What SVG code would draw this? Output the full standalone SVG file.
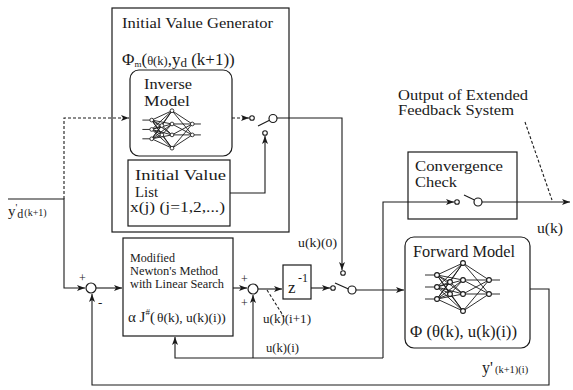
<svg xmlns="http://www.w3.org/2000/svg" xmlns:xlink="http://www.w3.org/1999/xlink" width="573" height="390" viewBox="0 0 573 390">
<style>
.t{font-family:"Liberation Serif","Times New Roman",serif;fill:#1a1a1a}
.b{fill:none;stroke:#1a1a1a;stroke-width:1.2}
.w{fill:#fff;stroke:#1a1a1a;stroke-width:1.2}
.c{fill:none;stroke:#1a1a1a;stroke-width:1.1}
.d{fill:none;stroke:#1a1a1a;stroke-width:1.1;stroke-dasharray:3 2}
.a{marker-end:url(#arr)}
.n{fill:#fff;stroke:#1a1a1a;stroke-width:1.1}
.nl{fill:none;stroke:#1a1a1a;stroke-width:0.9}
</style>
<defs>
<marker id="arr" markerUnits="userSpaceOnUse" markerWidth="9" markerHeight="7" refX="8" refY="3.5" orient="auto">
<path d="M0,0.5 L8,3.5 L0,6.5 L2,3.5 z" fill="#1a1a1a"/>
</marker>
<g id="net">
<path class="nl" vector-effect="non-scaling-stroke" d="M-38,-14H-26M-38,-2H-26M-38,10H-26M26,-9H37M26,5H37
M-26,-14L0,-26M-26,-14L0,-9M-26,-14L0,5M-26,-14L0,22
M-26,-2L0,-26M-26,-2L0,-9M-26,-2L0,5M-26,-2L0,22
M-26,10L0,-26M-26,10L0,-9M-26,10L0,5M-26,10L0,22
M-26,-14L-13,-7M-26,-14L-13,5M-26,-2L-13,-7M-26,-2L-13,5M-26,10L-13,-7M-26,10L-13,5
M-13,-7L0,-26M-13,-7L0,5M-13,5L0,-9M-13,5L0,22
M0,-26L26,-9M0,-26L26,5M0,-9L26,-9M0,-9L26,5M0,5L26,-9M0,5L26,5M0,22L26,-9M0,22L26,5"/>
<g class="n" vector-effect="non-scaling-stroke">
<circle cx="-26" cy="-14" r="2.4"/><circle cx="-26" cy="-2" r="2.4"/><circle cx="-26" cy="10" r="2.4"/>
<circle cx="-13" cy="-7" r="2.4"/><circle cx="-13" cy="5" r="2.4"/>
<circle cx="0" cy="-26" r="2.4"/><circle cx="0" cy="-9" r="2.4"/><circle cx="0" cy="5" r="2.4"/><circle cx="0" cy="22" r="2.4"/>
<circle cx="26" cy="-9" r="2.4"/><circle cx="26" cy="5" r="2.4"/>
</g>
</g>
</defs>
<rect width="573" height="390" fill="#fff"/>

<g id="connectors">
<path class="c a" d="M8,199 H64 V288 H85"/>
<path class="d a" d="M64,199 V118 H129"/>
<path class="d a" d="M232,118 H249"/>
<path class="c a" d="M230,193 H265 V136"/>
<path class="c a" d="M277,118 H342 V270"/>
<path class="c a" d="M96,288 H122"/>
<path class="c a" d="M233,288 H247"/>
<path class="c a" d="M258,289 H282"/>
<path class="c a" d="M311,288 H330"/>
<path class="c a" d="M356,290 H404"/>
<path class="c a" d="M383,358 V202 H454"/>
<path class="c a" d="M482,202 H570"/>
<path class="c a" d="M383,358 H175 V337"/>
<path class="c a" d="M253,358 V295"/>
<path class="c a" d="M530,289 H549 V385 H92 V294"/>
<path class="d" d="M267,290 L284,317"/>
<path class="d" d="M525,122 L552,200"/>
</g>

<g id="switch-initial">
<circle class="n" cx="252" cy="118" r="2.3"/>
<circle class="n" cx="265" cy="133" r="2.3"/>
<line class="c" x1="258" y1="126" x2="270" y2="120"/>
<circle class="w" cx="273" cy="118.5" r="4"/>
</g>
<g id="switch-iter">
<circle class="n" cx="343" cy="273" r="2.3"/>
<circle class="n" cx="333" cy="288" r="2.3"/>
<line class="c" x1="335" y1="283" x2="348.5" y2="289"/>
<circle class="w" cx="352" cy="290" r="4"/>
</g>
<g id="switch-conv">
<circle class="n" cx="457" cy="202" r="2.3"/>
<line class="c" x1="464" y1="195" x2="474.5" y2="200"/>
<circle class="w" cx="478" cy="202" r="4"/>
</g>

<g id="initial-value-generator">
<rect class="b" x="112" y="8" width="177" height="224"/>
<text class="t" x="122" y="28" font-size="15" textLength="151" lengthAdjust="spacingAndGlyphs">Initial Value Generator</text>
<text class="t" x="122" y="65" font-size="17">Φ<tspan font-size="9" dy="2">m</tspan><tspan dy="-2">(</tspan><tspan font-size="12.5">θ(k)</tspan>,y<tspan font-size="13" dy="2">d</tspan><tspan dy="-2"> (k+1))</tspan></text>
</g>

<g id="inverse-model">
<rect class="b" x="130" y="70" width="102" height="86" rx="9"/>
<text class="t" x="144" y="89" font-size="15" textLength="48" lengthAdjust="spacingAndGlyphs">Inverse</text>
<text class="t" x="144" y="106" font-size="15" textLength="46" lengthAdjust="spacingAndGlyphs">Model</text>
<use xlink:href="#net" href="#net" transform="translate(172,131) scale(0.78)"/>
</g>

<g id="initial-value-list">
<rect class="b" x="128" y="160" width="102" height="66"/>
<text class="t" x="135" y="180" font-size="15" textLength="91" lengthAdjust="spacingAndGlyphs">Initial Value</text>
<text class="t" x="135" y="197" font-size="15" textLength="23" lengthAdjust="spacingAndGlyphs">List</text>
<text class="t" x="130" y="212" font-size="14" textLength="95" lengthAdjust="spacingAndGlyphs">x(j) (j=1,2,...)</text>
</g>

<g id="sum-1">
<circle class="w" cx="91" cy="288" r="5"/>
<text class="t" x="79" y="282" font-size="12">+</text>
<text class="t" x="98" y="307" font-size="13">-</text>
</g>

<g id="newton">
<rect class="b" x="123" y="238" width="110" height="98"/>
<text class="t" x="130" y="262" font-size="12.5" textLength="45" lengthAdjust="spacingAndGlyphs">Modified</text>
<text class="t" x="130" y="275" font-size="12.5" textLength="88" lengthAdjust="spacingAndGlyphs">Newton's Method</text>
<text class="t" x="130" y="288" font-size="12.5" textLength="94" lengthAdjust="spacingAndGlyphs">with Linear Search</text>
<text class="t" x="128" y="322" font-size="15">α J<tspan font-size="9" dy="-7">#</tspan><tspan dy="7">(</tspan><tspan font-size="13.5" dx="2">θ(k), u(k)(i))</tspan></text>
</g>

<g id="sum-2">
<circle class="w" cx="253" cy="289" r="5"/>
<text class="t" x="241" y="283" font-size="12">+</text>
<text class="t" x="241" y="307" font-size="12">+</text>
</g>

<g id="delay">
<rect class="b" x="283" y="265" width="28" height="34"/>
<text class="t" x="288" y="293" font-size="17">z</text>
<text class="t" x="298" y="282" font-size="12">-1</text>
</g>

<g id="forward-model">
<rect class="b" x="405" y="237" width="125" height="111" rx="9"/>
<text class="t" x="413" y="257" font-size="16" textLength="102" lengthAdjust="spacingAndGlyphs">Forward Model</text>
<use xlink:href="#net" href="#net" transform="translate(463,289)"/>
<text class="t" x="410" y="337" font-size="16" textLength="107" lengthAdjust="spacingAndGlyphs">Φ (θ(k), u(k)(i))</text>
</g>

<g id="convergence-check">
<rect class="b" x="408" y="152" width="109" height="67"/>
<text class="t" x="415" y="171" font-size="15" textLength="88" lengthAdjust="spacingAndGlyphs">Convergence</text>
<text class="t" x="415" y="187" font-size="15" textLength="42" lengthAdjust="spacingAndGlyphs">Check</text>
</g>

<g id="labels">
<text class="t" x="8" y="216" font-size="15">y<tspan font-size="10" dy="-5">'</tspan><tspan font-size="12" dy="7">d</tspan><tspan font-size="10" dy="-2" dx="1">(k+1)</tspan></text>
<text class="t" x="298" y="247" font-size="13" textLength="39" lengthAdjust="spacingAndGlyphs">u(k)(0)</text>
<text class="t" x="263" y="323" font-size="13" textLength="48" lengthAdjust="spacingAndGlyphs">u(k)(i+1)</text>
<text class="t" x="266" y="352" font-size="13" textLength="33" lengthAdjust="spacingAndGlyphs">u(k)(i)</text>
<text class="t" x="537" y="233" font-size="15" textLength="26" lengthAdjust="spacingAndGlyphs">u(k)</text>
<text class="t" x="482" y="373" font-size="16">y'<tspan font-size="10.5" dx="2">(k+1)(i)</tspan></text>
<text class="t" x="398" y="100" font-size="15" textLength="130" lengthAdjust="spacingAndGlyphs">Output of Extended</text>
<text class="t" x="398" y="115" font-size="15" textLength="116" lengthAdjust="spacingAndGlyphs">Feedback System</text>
</g>
</svg>
